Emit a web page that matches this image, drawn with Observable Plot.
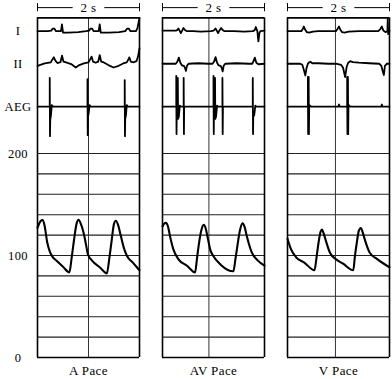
<!DOCTYPE html>
<html><head><meta charset="utf-8">
<script src="https://cdn.jsdelivr.net/npm/d3@7"></script>
<script src="https://cdn.jsdelivr.net/npm/@observablehq/plot@0.6"></script>
<style>
html,body{margin:0;padding:0;background:#fff;}
#chart svg{display:block;}
</style>
</head><body><div id="chart"></div>
<script>
// ---------- data ----------
const panels = ["A Pace", "AV Pace", "V Pace"];
const leadNames = ["I", "II", "AEG"];
const pressureTicks = [0, 100, 200];
const gridPressures = [0, 20, 40, 60, 80, 100, 120, 140, 160, 180, 200];
const spanSeconds = [0, 2];
const scaleBarLabel = "2 s";
const midlineSeconds = [1.0, 0.91, 0.94];

// arterial pressure (mmHg) vs time (s), one pair of arrays per panel
const pressureA_t = [0, 0.05, 0.10, 0.14, 0.19, 0.24, 0.29, 0.37, 0.50, 0.625, 0.67, 0.71, 0.77, 0.805, 0.85, 0.90, 0.95, 0.99, 1.07, 1.23, 1.36, 1.41, 1.45, 1.50, 1.535, 1.58, 1.63, 1.69, 1.75, 1.87, 2.0];
const pressureA_v = [127, 133, 135, 129, 113, 104, 99, 95, 89, 83.5, 98, 113, 132, 135, 131, 123, 111, 101, 95, 88, 82.5, 98, 113, 131, 134, 130, 120, 108, 100, 93, 85.5];
const pressureAV_t = [0, 0.03, 0.066, 0.11, 0.145, 0.21, 0.31, 0.48, 0.64, 0.675, 0.71, 0.76, 0.81, 0.85, 0.89, 0.94, 0.99, 1.14, 1.39, 1.43, 1.47, 1.52, 1.57, 1.61, 1.65, 1.75, 1.87, 2.0];
const pressureAV_v = [128.5, 131, 132, 128, 119.5, 106.5, 96.5, 90, 83.5, 96.5, 110, 124.5, 130, 126, 116.5, 105, 100, 91, 84.5, 96.5, 110, 125, 131.5, 128, 119.5, 103, 95, 90];
const pressureV_t = [0, 0.066, 0.165, 0.33, 0.53, 0.57, 0.61, 0.65, 0.675, 0.70, 0.74, 0.83, 0.96, 1.09, 1.29, 1.32, 1.36, 1.40, 1.44, 1.47, 1.51, 1.61, 1.76, 2.0];
const pressureV_v = [116.5, 106.5, 98.5, 93, 85.5, 98.5, 113, 123.5, 125.5, 123, 116.5, 103, 96, 92, 85.5, 98.5, 113, 124.5, 127, 123.5, 116.5, 103, 96.5, 88.5];

// ECG / electrogram deflections: [time s, amplitude]
const leadI_A = [[0,0],[0.20,0],[0.27,0.5],[0.30,2.5],[0.33,2.5],[0.36,0],[0.46,0],[0.48,6.5],[0.50,-1.5],[0.60,-1.5],[0.80,-1],[0.95,0],[1.01,0.5],[1.04,2.5],[1.07,2.5],[1.10,0],[1.20,0],[1.22,6.5],[1.24,-1.5],[1.40,-1.5],[1.60,-1],[1.72,0],[1.76,2.5],[1.79,2.5],[1.82,0],[1.93,0],[1.96,3],[2.0,13]];
const leadII_A = [[0,-2],[0.14,0.3],[0.26,1.3],[0.29,4],[0.32,6.3],[0.35,3],[0.39,0.7],[0.45,1.5],[0.48,8],[0.51,2],[0.56,1.3],[0.66,-0.3],[0.75,-3.7],[0.82,-1.3],[0.91,0.3],[1.00,1.3],[1.03,4],[1.06,7],[1.09,2],[1.14,1],[1.19,2],[1.22,8.5],[1.25,2],[1.30,1.3],[1.39,-1.3],[1.49,-3.7],[1.59,-2],[1.68,0.3],[1.75,1.3],[1.78,4],[1.80,6.3],[1.83,2],[1.88,1.3],[1.94,2.5],[1.97,7],[2.0,15]];
const aeg_A = [[0,0],[0.24,0],[0.24,28],[0.245,-29],[0.25,-13],[0.265,-8],[0.28,1.5],[0.30,0],[0.98,0],[0.98,27],[0.985,-28],[0.99,-10],[1.005,-6],[1.02,1.5],[1.04,0],[1.71,0],[1.71,26],[1.715,-29],[1.72,-12],[1.735,-8],[1.75,1.5],[1.77,0],[2.0,0]];

const leadI_AV = [[0,0.5],[0.26,0.5],[0.29,1],[0.31,2.5],[0.34,0],[0.36,-2],[0.38,0],[0.41,3],[0.44,1],[0.47,0],[0.60,0],[0.75,-0.5],[0.95,0],[1.00,0.5],[1.02,1.5],[1.04,2.5],[1.07,0],[1.09,-2],[1.11,0],[1.15,3],[1.18,1],[1.21,0],[1.40,0],[1.60,-0.5],[1.77,0],[1.81,1],[1.83,4],[1.86,0],[1.88,-10],[1.90,-2],[1.92,0],[2.0,0.5]];
const leadII_AV = [[0,0],[0.26,0],[0.29,2],[0.32,6],[0.35,1],[0.38,-1.5],[0.42,-2],[0.44,-4],[0.46,-7],[0.48,-2],[0.51,0],[0.70,0.5],[0.90,0],[0.98,0],[1.01,2],[1.04,6.5],[1.07,1],[1.10,-1.5],[1.14,-2],[1.16,-4],[1.18,-7.5],[1.20,-2],[1.23,0],[1.45,0.5],[1.70,0],[1.76,0],[1.78,2],[1.81,6],[1.84,1],[1.88,-0.5],[2.0,0]];
const aeg_AV = [[0,0],[0.27,0],[0.27,30],[0.275,-27],[0.28,0],[0.30,28],[0.305,-12],[0.32,-10],[0.34,1],[0.36,0],[0.415,0],[0.415,28],[0.42,-27],[0.425,0],[1.00,0],[1.00,30],[1.005,-27],[1.01,0],[1.03,28],[1.035,-12],[1.05,-10],[1.07,1],[1.09,0],[1.175,0],[1.175,28],[1.18,-27],[1.185,0],[1.77,0],[1.77,28],[1.775,-27],[1.78,-10],[1.80,-8],[1.82,1],[1.84,0],[2.0,0]];

const leadI_V = [[0,0],[0.27,0],[0.30,2],[0.32,4.5],[0.35,1],[0.38,-1],[0.42,-1.5],[0.50,-0.5],[0.60,0],[0.95,0],[0.98,2],[1.01,4.5],[1.04,1],[1.07,-1],[1.12,-1.5],[1.20,-0.5],[1.40,0],[1.78,0],[1.82,2],[1.85,4.5],[1.88,0.5],[1.92,-1],[1.96,0],[1.965,12],[1.975,-3],[1.98,0],[2.0,0]];
const leadII_V = [[0,0],[0.25,0],[0.29,-1],[0.32,-6],[0.35,-11.5],[0.37,-5],[0.40,0],[0.43,1.5],[0.45,2],[0.48,0.5],[0.60,0.5],[0.80,0],[0.95,0],[1.05,-1],[1.09,-4],[1.13,-13],[1.16,-3],[1.19,1],[1.23,2.5],[1.28,1.5],[1.40,1],[1.60,0.5],[1.80,0],[1.84,-2],[1.87,-8],[1.89,-11],[1.91,-2],[1.95,0],[2.0,0]];
const aeg_V = [[0,0],[0.40,0],[0.40,29],[0.405,-27],[0.41,0],[0.415,29],[0.42,-27],[0.425,0],[0.44,1],[0.46,0],[1.00,0],[1.01,2],[1.02,0],[1.17,0],[1.17,29],[1.175,-27],[1.18,0],[1.185,29],[1.19,-27],[1.195,0],[1.21,1],[1.23,0],[1.84,0],[1.85,2],[1.86,0],[2.0,0]];

// ---------- layout (positions on the y scale) ----------
const layout = {
  frameTop: 333,
  laneBase: {I: 320, II: 288, AEG: 246},
  barY: 343,
  barTickHalf: 4,
  barGap: [0.70, 1.32]
};

// ---------- tidy tables ----------
const pressureSets = [[pressureA_t, pressureA_v], [pressureAV_t, pressureAV_v], [pressureV_t, pressureV_v]];
const pressureRows = pressureSets.flatMap(([ts, vs], i) => ts.map((t, j) => ({panel: panels[i], t, v: vs[j]})));
const ecgSets = [[leadI_A, leadII_A, aeg_A], [leadI_AV, leadII_AV, aeg_AV], [leadI_V, leadII_V, aeg_V]];
const ecgRows = ecgSets.flatMap((set, i) => set.flatMap((trace, k) =>
  trace.map(([t, a]) => ({panel: panels[i], lead: leadNames[k], t, y: layout.laneBase[leadNames[k]] + a}))));
const midRows = panels.map((p, i) => ({panel: p, t: midlineSeconds[i]}));
const labelRows = [
  ...leadNames.map(n => ({label: n, y: layout.laneBase[n]})),
  ...pressureTicks.map(v => ({label: String(v), y: v}))
];
const barSegments = [{x1: spanSeconds[0], x2: layout.barGap[0]}, {x1: layout.barGap[1], x2: spanSeconds[1]}];

const chart = Plot.plot({
  width: 392,
  height: 379,
  marginLeft: 36.5,
  marginRight: 3,
  marginTop: 0,
  marginBottom: 22,
  style: {fontFamily: "'Liberation Serif', 'Times New Roman', serif", fontSize: "13px", letterSpacing: "0.4px", background: "#fff", color: "#000"},
  fx: {domain: panels, paddingInner: 0.188, paddingOuter: 0, axis: "bottom", label: null, tickSize: 0, tickPadding: 8},
  x: {domain: spanSeconds, axis: null},
  y: {domain: [0, 350], axis: null},
  marks: [
    Plot.ruleY(gridPressures, {y: d => d, stroke: "#222", strokeWidth: 1.1}),
    Plot.ruleX(midRows, {fx: "panel", x: "t", y1: 0, y2: layout.frameTop, stroke: "#333", strokeWidth: 1}),
    Plot.ruleX(spanSeconds, {x: d => d, y1: 0, y2: layout.frameTop, stroke: "#000", strokeWidth: 1.6}),
    Plot.ruleY([0, layout.frameTop], {y: d => d, stroke: "#000", strokeWidth: 1.6}),
    Plot.line(pressureRows, {fx: "panel", x: "t", y: "v", stroke: "#000", strokeWidth: 2.1, curve: "monotone-x"}),
    Plot.line(ecgRows, {fx: "panel", x: "t", y: "y", z: "lead", stroke: "#000", strokeWidth: 1.8}),
    Plot.ruleY(barSegments, {x1: "x1", x2: "x2", y: layout.barY, stroke: "#000", strokeWidth: 1}),
    Plot.ruleX(spanSeconds, {x: d => d, y1: layout.barY - layout.barTickHalf, y2: layout.barY + layout.barTickHalf, stroke: "#000", strokeWidth: 1}),
    Plot.text([scaleBarLabel], {x: (spanSeconds[0] + spanSeconds[1]) / 2, y: layout.barY, text: d => d, fontSize: 13, fill: "#000"}),
    Plot.text(labelRows, {fx: () => panels[0], x: spanSeconds[0], y: "y", text: "label", dx: -19.5, textAnchor: "middle", fontSize: 12.5, fill: "#000"})
  ]
});
document.getElementById("chart").appendChild(chart);
</script>
</body></html>
